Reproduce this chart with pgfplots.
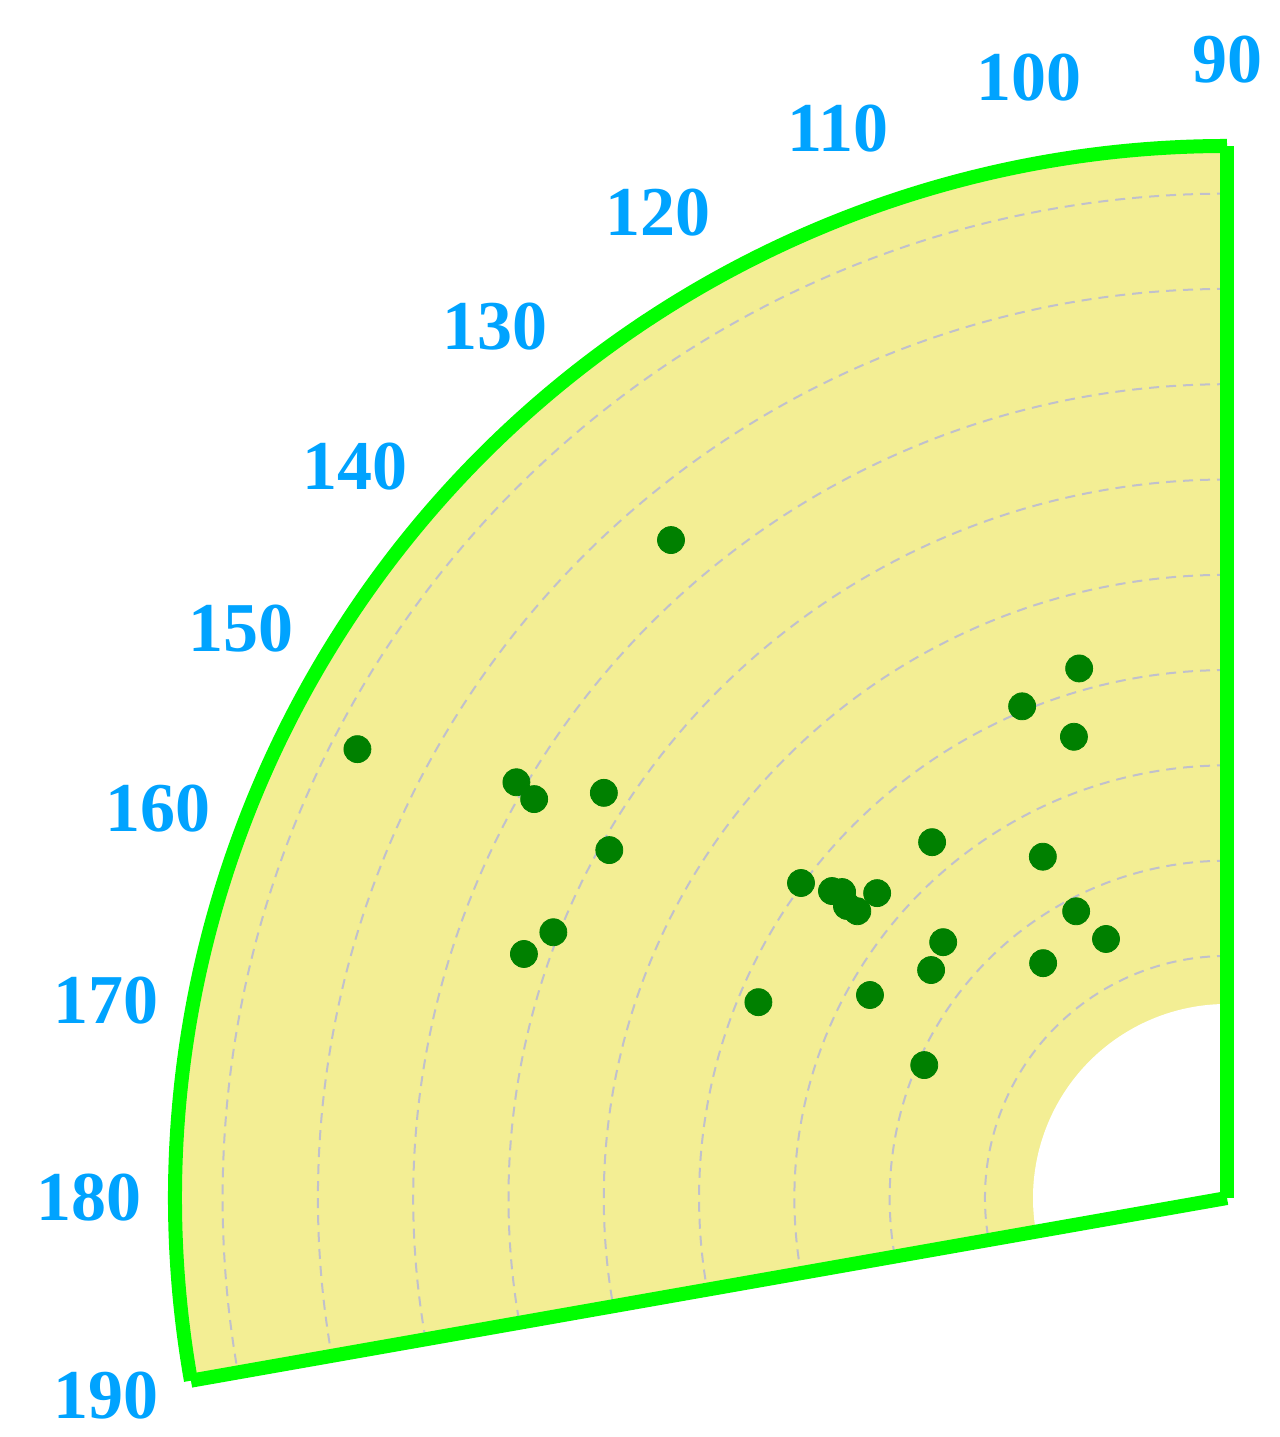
\documentclass[border=0pt]{standalone}
\usepackage{fontspec}
\setmainfont{Liberation Serif}
\usepackage{pgfplots}
\usepackage{pgfplotstable}
\pgfplotsset{compat=1.18}
\usepgfplotslibrary{polar}

\definecolor{sectorfill}{RGB}{243,238,148}
\definecolor{rimgreen}{RGB}{0,255,0}
\definecolor{gridgray}{RGB}{192,192,204}
\definecolor{dotgreen}{RGB}{0,128,0}
\definecolor{labelblue}{RGB}{0,163,255}

% angle (deg), radius
\pgfplotstableread{
angle r
130.20 9.04
152.70 10.27
149.67 8.64
150.07 8.39
146.97 7.80
150.61 7.44
158.47 7.60
160.86 7.81
105.60 5.77
112.62 5.59
108.36 5.10
129.65 4.85
118.35 4.07
143.52 5.56
142.15 5.25
141.52 5.16
142.46 5.03
142.20 4.91
138.93 4.87
117.75 3.40
115.04 3.00
137.97 4.01
142.39 3.92
128.06 3.13
157.32 5.33
150.38 4.31
156.30 3.47
}\pointdata

\begin{document}
\begin{tikzpicture}
\begin{polaraxis}[
    set layers,
    scale only axis,
    width=1052pt, height=1052pt,
    xmin=90, xmax=190,
    ymin=0, ymax=11.04,
    xtick={90,100,...,190},
    ytick={2.54,3.54,4.54,5.54,6.54,7.54,8.54,9.54,10.54},
    yticklabels={},
    xticklabel={\pgfmathprintnumber[assume math mode=true]{\tick}},
    xticklabel style={anchor=center, text=labelblue,
        font=\fontsize{35}{35}\selectfont\bfseries,
        xshift={43pt*cos(\tick)}, yshift={43pt*sin(\tick)}},
    major tick length=0pt,
    xmajorgrids=false,
    ymajorgrids=true,
    y grid style={gridgray, line width=1pt, dash pattern=on 5pt off 3.5pt},
    axis line style={rimgreen, line width=7pt, line join=miter},
    axis background/.style={fill=sectorfill},
]
\begin{pgfonlayer}{axis grid}
\fill[white] (axis cs:90,2.036) arc[start angle=90, end angle=190, radius=97pt] -- (axis cs:190,0) -- cycle;
\end{pgfonlayer}
\coordinate (C) at (axis cs:190,0);
\addplot[only marks, mark=*, mark size=6.75pt, color=dotgreen, mark options={draw=dotgreen, fill=dotgreen}]
    table[x=angle, y=r] {\pointdata};
\end{polaraxis}
\pgfresetboundingbox
\path[use as bounding box] ([xshift=-613.5pt, yshift=-119.5pt]C) rectangle ([xshift=26.5pt, yshift=599pt]C);
\end{tikzpicture}
\end{document}
